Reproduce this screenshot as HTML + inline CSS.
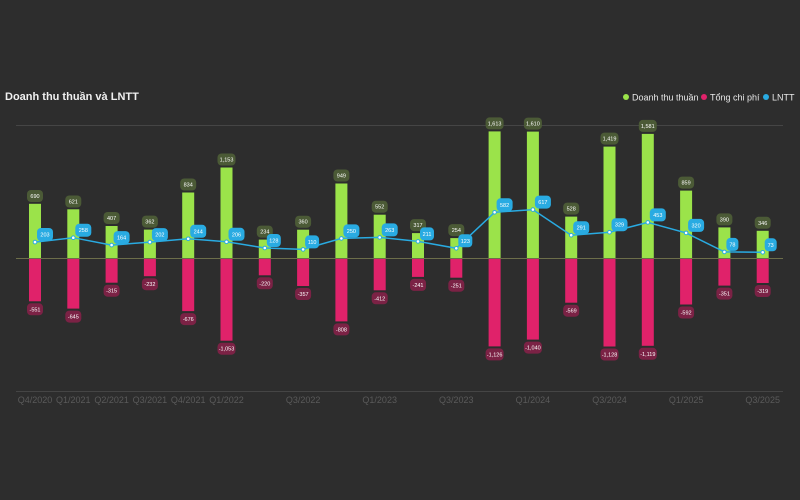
<!DOCTYPE html>
<html><head><meta charset="utf-8"><style>
html,body{margin:0;padding:0;background:#2d2d2d;}
svg{display:block;font-family:"Liberation Sans",sans-serif;}
.t{font-size:5.5px;fill:#fff;text-anchor:middle;}
.ax{font-size:9px;fill:#5a5a5a;text-anchor:middle;}
</style></head><body>
<svg width="800" height="500" viewBox="0 0 800 500">
<rect width="800" height="500" fill="#2d2d2d"/>
<text x="5" y="100" font-size="11" font-weight="bold" fill="#f0f0f0">Doanh thu thuần và LNTT</text>
<circle cx="626" cy="97" r="3" fill="#9be34a"/><text x="632" y="100.5" font-size="9" fill="#e8e8e8">Doanh thu thuần</text>
<circle cx="704" cy="97" r="3" fill="#e0226a"/><text x="710" y="100.5" font-size="9" fill="#e8e8e8">Tổng chi phí</text>
<circle cx="766" cy="97" r="3" fill="#29abe2"/><text x="772" y="100.5" font-size="9" fill="#e8e8e8">LNTT</text>
<line x1="16" y1="125.5" x2="783" y2="125.5" stroke="#454545"/>
<line x1="16" y1="391.5" x2="783" y2="391.5" stroke="#454545"/>
<g fill="#9be34a">
<rect x="29" y="203.8" width="12" height="54.2"/><rect x="67.3" y="209.3" width="12" height="48.7"/><rect x="105.6" y="226" width="12" height="32"/><rect x="143.9" y="229.6" width="12" height="28.4"/><rect x="182.2" y="192.5" width="12" height="65.5"/><rect x="220.5" y="167.5" width="12" height="90.5"/><rect x="258.8" y="239.6" width="12" height="18.4"/><rect x="297.1" y="229.7" width="12" height="28.3"/><rect x="335.4" y="183.5" width="12" height="74.5"/><rect x="373.7" y="214.7" width="12" height="43.3"/><rect x="412" y="233.1" width="12" height="24.9"/><rect x="450.3" y="238.1" width="12" height="19.9"/><rect x="488.6" y="131.4" width="12" height="126.6"/><rect x="526.9" y="131.6" width="12" height="126.4"/><rect x="565.2" y="216.6" width="12" height="41.4"/><rect x="603.5" y="146.6" width="12" height="111.4"/><rect x="641.8" y="133.9" width="12" height="124.1"/><rect x="680.1" y="190.6" width="12" height="67.4"/><rect x="718.4" y="227.4" width="12" height="30.6"/><rect x="756.7" y="230.8" width="12" height="27.2"/>
</g>
<g fill="#e0226a">
<rect x="29" y="258" width="12" height="43.3"/><rect x="67.3" y="258" width="12" height="50.6"/><rect x="105.6" y="258" width="12" height="24.7"/><rect x="143.9" y="258" width="12" height="18.2"/><rect x="182.2" y="258" width="12" height="53.1"/><rect x="220.5" y="258" width="12" height="82.7"/><rect x="258.8" y="258" width="12" height="17.3"/><rect x="297.1" y="258" width="12" height="28"/><rect x="335.4" y="258" width="12" height="63.4"/><rect x="373.7" y="258" width="12" height="32.3"/><rect x="412" y="258" width="12" height="18.9"/><rect x="450.3" y="258" width="12" height="19.7"/><rect x="488.6" y="258" width="12" height="88.4"/><rect x="526.9" y="258" width="12" height="81.6"/><rect x="565.2" y="258" width="12" height="44.7"/><rect x="603.5" y="258" width="12" height="88.5"/><rect x="641.8" y="258" width="12" height="87.8"/><rect x="680.1" y="258" width="12" height="46.5"/><rect x="718.4" y="258" width="12" height="27.6"/><rect x="756.7" y="258" width="12" height="25"/>
</g>
<line x1="16" y1="258.5" x2="783" y2="258.5" stroke="#6d6e4a"/>
<g fill="#4b5a36">
<rect x="27" y="190" width="16" height="12" rx="4"/><rect x="65.3" y="195.5" width="16" height="12" rx="4"/><rect x="103.6" y="212" width="16" height="12" rx="4"/><rect x="141.9" y="215.6" width="16" height="12" rx="4"/><rect x="180.2" y="178.5" width="16" height="12" rx="4"/><rect x="217.5" y="153.5" width="18" height="12" rx="4"/><rect x="256.8" y="225.6" width="16" height="12" rx="4"/><rect x="295.1" y="215.7" width="16" height="12" rx="4"/><rect x="333.4" y="169.5" width="16" height="12" rx="4"/><rect x="371.7" y="200.7" width="16" height="12" rx="4"/><rect x="410" y="219.1" width="16" height="12" rx="4"/><rect x="448.3" y="224.1" width="16" height="12" rx="4"/><rect x="485.6" y="117.4" width="18" height="12" rx="4"/><rect x="523.9" y="117.6" width="18" height="12" rx="4"/><rect x="563.2" y="202.6" width="16" height="12" rx="4"/><rect x="600.5" y="132.6" width="18" height="12" rx="4"/><rect x="638.8" y="119.9" width="18" height="12" rx="4"/><rect x="678.1" y="176.6" width="16" height="12" rx="4"/><rect x="716.4" y="213.4" width="16" height="12" rx="4"/><rect x="754.7" y="216.8" width="16" height="12" rx="4"/>
</g>
<g class="t">
<text x="35" y="198">690</text><text x="73.3" y="203.5">621</text><text x="111.6" y="220">407</text><text x="149.9" y="223.6">362</text><text x="188.2" y="186.5">834</text><text x="226.5" y="161.5">1,153</text><text x="264.8" y="233.6">234</text><text x="303.1" y="223.7">360</text><text x="341.4" y="177.5">949</text><text x="379.7" y="208.7">552</text><text x="418" y="227.1">317</text><text x="456.3" y="232.1">254</text><text x="494.6" y="125.4">1,613</text><text x="532.9" y="125.6">1,610</text><text x="571.2" y="210.6">528</text><text x="609.5" y="140.6">1,419</text><text x="647.8" y="127.9">1,581</text><text x="686.1" y="184.6">859</text><text x="724.4" y="221.4">390</text><text x="762.7" y="224.8">346</text>
</g>
<g fill="#7b2245">
<rect x="27" y="303.3" width="16" height="12" rx="4"/><rect x="65.3" y="310.6" width="16" height="12" rx="4"/><rect x="103.6" y="284.7" width="16" height="12" rx="4"/><rect x="141.9" y="278.2" width="16" height="12" rx="4"/><rect x="180.2" y="313.1" width="16" height="12" rx="4"/><rect x="217.5" y="342.7" width="18" height="12" rx="4"/><rect x="256.8" y="277.3" width="16" height="12" rx="4"/><rect x="295.1" y="288" width="16" height="12" rx="4"/><rect x="333.4" y="323.4" width="16" height="12" rx="4"/><rect x="371.7" y="292.3" width="16" height="12" rx="4"/><rect x="410" y="278.9" width="16" height="12" rx="4"/><rect x="448.3" y="279.7" width="16" height="12" rx="4"/><rect x="485.6" y="348.4" width="18" height="12" rx="4"/><rect x="523.9" y="341.6" width="18" height="12" rx="4"/><rect x="563.2" y="304.7" width="16" height="12" rx="4"/><rect x="600.5" y="348.5" width="18" height="12" rx="4"/><rect x="638.8" y="347.8" width="18" height="12" rx="4"/><rect x="678.1" y="306.5" width="16" height="12" rx="4"/><rect x="716.4" y="287.6" width="16" height="12" rx="4"/><rect x="754.7" y="285" width="16" height="12" rx="4"/>
</g>
<g class="t">
<text x="35" y="311.3">-551</text><text x="73.3" y="318.6">-645</text><text x="111.6" y="292.7">-315</text><text x="149.9" y="286.2">-232</text><text x="188.2" y="321.1">-676</text><text x="226.5" y="350.7">-1,053</text><text x="264.8" y="285.3">-220</text><text x="303.1" y="296">-357</text><text x="341.4" y="331.4">-808</text><text x="379.7" y="300.3">-412</text><text x="418" y="286.9">-241</text><text x="456.3" y="287.7">-251</text><text x="494.6" y="356.4">-1,126</text><text x="532.9" y="349.6">-1,040</text><text x="571.2" y="312.7">-569</text><text x="609.5" y="356.5">-1,128</text><text x="647.8" y="355.8">-1,119</text><text x="686.1" y="314.5">-592</text><text x="724.4" y="295.6">-351</text><text x="762.7" y="293">-319</text>
</g>
<polyline fill="none" stroke="#29abe2" stroke-width="1.5" points="35,242.1 73.3,237.7 111.6,245.1 149.9,242.1 188.2,238.8 226.5,241.8 264.8,248 303.1,249.4 341.4,238.4 379.7,237.4 418,241.4 456.3,248.3 494.6,212.3 532.9,209.6 571.2,235.2 609.5,232.2 647.8,222.4 686.1,232.9 724.4,251.9 762.7,252.3"/>
<g fill="#fff" stroke="#29abe2" stroke-width="1">
<circle cx="35" cy="242.1" r="1.8"/><circle cx="73.3" cy="237.7" r="1.8"/><circle cx="111.6" cy="245.1" r="1.8"/><circle cx="149.9" cy="242.1" r="1.8"/><circle cx="188.2" cy="238.8" r="1.8"/><circle cx="226.5" cy="241.8" r="1.8"/><circle cx="264.8" cy="248" r="1.8"/><circle cx="303.1" cy="249.4" r="1.8"/><circle cx="341.4" cy="238.4" r="1.8"/><circle cx="379.7" cy="237.4" r="1.8"/><circle cx="418" cy="241.4" r="1.8"/><circle cx="456.3" cy="248.3" r="1.8"/><circle cx="494.6" cy="212.3" r="1.8"/><circle cx="532.9" cy="209.6" r="1.8"/><circle cx="571.2" cy="235.2" r="1.8"/><circle cx="609.5" cy="232.2" r="1.8"/><circle cx="647.8" cy="222.4" r="1.8"/><circle cx="686.1" cy="232.9" r="1.8"/><circle cx="724.4" cy="251.9" r="1.8"/><circle cx="762.7" cy="252.3" r="1.8"/>
</g>
<g fill="#29abe2">
<rect x="37" y="228" width="16" height="13" rx="4"/><rect x="75.3" y="223.7" width="16" height="13" rx="4"/><rect x="113.6" y="231.1" width="16" height="13" rx="4"/><rect x="151.9" y="228.1" width="16" height="13" rx="4"/><rect x="190.2" y="224.8" width="16" height="13" rx="4"/><rect x="228.5" y="227.8" width="16" height="13" rx="4"/><rect x="266.8" y="234" width="14" height="13" rx="4"/><rect x="305.1" y="235.4" width="14" height="13" rx="4"/><rect x="343.4" y="224.4" width="16" height="13" rx="4"/><rect x="381.7" y="223.4" width="16" height="13" rx="4"/><rect x="420" y="227.4" width="14" height="13" rx="4"/><rect x="458.3" y="234.3" width="14" height="13" rx="4"/><rect x="496.6" y="198.3" width="16" height="13" rx="4"/><rect x="534.9" y="195.6" width="16" height="13" rx="4"/><rect x="573.2" y="221.2" width="16" height="13" rx="4"/><rect x="611.5" y="218.2" width="16" height="13" rx="4"/><rect x="649.8" y="208.4" width="16" height="13" rx="4"/><rect x="688.1" y="218.9" width="16" height="13" rx="4"/><rect x="726.4" y="237.9" width="12" height="13" rx="4"/><rect x="764.7" y="238.3" width="12" height="13" rx="4"/>
</g>
<g class="t">
<text x="45" y="236.5">203</text><text x="83.3" y="232.2">258</text><text x="121.6" y="239.6">164</text><text x="159.9" y="236.6">202</text><text x="198.2" y="233.3">244</text><text x="236.5" y="236.3">206</text><text x="273.8" y="242.5">128</text><text x="312.1" y="243.9">110</text><text x="351.4" y="232.9">250</text><text x="389.7" y="231.9">263</text><text x="427" y="235.9">211</text><text x="465.3" y="242.8">123</text><text x="504.6" y="206.8">582</text><text x="542.9" y="204.1">617</text><text x="581.2" y="229.7">291</text><text x="619.5" y="226.7">329</text><text x="657.8" y="216.9">453</text><text x="696.1" y="227.4">320</text><text x="732.4" y="246.4">78</text><text x="770.7" y="246.8">73</text>
</g>
<g class="ax">
<text x="35" y="403">Q4/2020</text><text x="73.3" y="403">Q1/2021</text><text x="111.6" y="403">Q2/2021</text><text x="149.9" y="403">Q3/2021</text><text x="188.2" y="403">Q4/2021</text><text x="226.5" y="403">Q1/2022</text><text x="303.1" y="403">Q3/2022</text><text x="379.7" y="403">Q1/2023</text><text x="456.3" y="403">Q3/2023</text><text x="532.9" y="403">Q1/2024</text><text x="609.5" y="403">Q3/2024</text><text x="686.1" y="403">Q1/2025</text><text x="762.7" y="403">Q3/2025</text>
</g>
</svg>
</body></html>
